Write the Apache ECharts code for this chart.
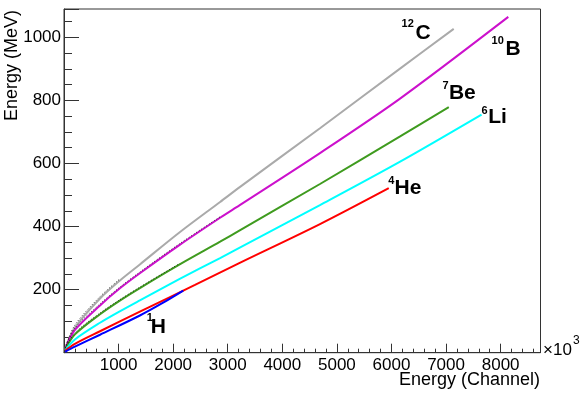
<!DOCTYPE html>
<html>
<head>
<meta charset="utf-8">
<script src="https://cdn.jsdelivr.net/npm/echarts@6/dist/echarts.min.js"></script>
<style>
html,body{margin:0;padding:0;background:#fff;}
#chart{width:581px;height:394px;}
</style>
</head>
<body>
<div id="chart"></div>
<script>
// ---- data (x: channel, y: MeV) ----
const carbon12 = [[20,12],[200,80],[660,172],[1030,230],[1390,280],[2120,382],[2860,478],[3220,525],[4690,712],[6150,900],[7140,1027]];
const boron10 = [[20,12],[200,72],[660,150],[1030,205],[1390,252],[2120,342],[2860,428],[3220,468],[4690,633],[6150,805],[8140,1065]];
const beryllium7 = [[20,10],[200,58],[660,122],[1030,166],[1390,205],[2120,280],[2860,352],[3220,388],[4690,535],[6150,685],[7050,779]];
const lithium6 = [[20,8],[200,42],[660,95],[1030,132],[1390,166],[2120,234],[2860,300],[3220,333],[4690,468],[6150,605],[7650,755]];
const helium4 = [[20,6],[200,28],[660,68],[1390,130],[2400,215],[3220,285],[4690,408],[5950,522]];
const proton1 = [[20,3],[200,19],[660,57],[1390,118],[1800,157],[2185,197]];

// black dotted fit curves visible along the low part of some tracks
const fitCarbon12 = [[20,16],[200,88],[660,178],[1030,235]];
const fitBoron10 = [[20,15],[200,78],[660,155],[1030,209],[1390,256],[2120,346],[2860,431]];
const fitBeryllium7 = [[20,13],[200,63],[660,126],[1030,169],[1390,208],[2120,283]];

const xTicks = [1000,2000,3000,4000,5000,6000,7000,8000];
const yTicks = [200,400,600,800,1000];

// label anchors (data coords) : [superscript, symbol, supX, supY, symX, symY]
const isotopeLabels = [
  ['12','C', 6185,1043, 6460,1013],
  ['10','B', 7833,990, 8108,963],
  ['7','Be', 6936,847, 7070,822],
  ['6','Li', 7650,768, 7789,747],
  ['4','He', 5940,546, 6075,522],
  ['1','H', 1515,110, 1606,82]
];

const chart = echarts.init(document.getElementById('chart'), null, {renderer:'canvas'});
const FONT = '"Liberation Sans", Arial, Helvetica, sans-serif';

function line(name, data, color){
  return {name, type:'line', data, smooth:0.3, symbol:'none',
    lineStyle:{color, width:2}, z:2, animation:false};
}
function fit(name, data){
  return {name, type:'line', data, smooth:0.3, symbol:'none',
    lineStyle:{color:'#000', width:1, type:[1,2], opacity:0.75}, z:3, animation:false};
}

const option = {
  animation:false,
  backgroundColor:'#fff',
  grid:{left:64, top:9, width:476.5, height:343.7, show:true, borderColor:'#333', borderWidth:1, containLabel:false},
  xAxis:{type:'value', min:0, max:8730, interval:1000,
    axisLine:{show:true, lineStyle:{color:'#333', width:1}},
    axisTick:{show:true, inside:true, length:9, lineStyle:{color:'#333'}},
    minorTick:{show:true, splitNumber:5, length:4, lineStyle:{color:'#333'}},
    splitLine:{show:false},
    axisLabel:{margin:4, color:'#000', fontFamily:FONT, fontSize:17,
      formatter:v => xTicks.includes(v) ? String(v) : ''}
  },
  yAxis:{type:'value', min:0, max:1090, interval:200,
    axisLine:{show:true, lineStyle:{color:'#333', width:1}},
    axisTick:{show:true, inside:true, length:15, lineStyle:{color:'#333'}},
    minorTick:{show:true, splitNumber:4, length:8, lineStyle:{color:'#333'}},
    splitLine:{show:false},
    axisLabel:{margin:3, color:'#000', fontFamily:FONT, fontSize:17,
      formatter:v => yTicks.includes(v) ? String(v) : ''}
  },
  series:[
    line('12C', carbon12, '#aaaaaa'),
    line('10B', boron10, '#cc11cc'),
    line('7Be', beryllium7, '#3f9b1f'),
    line('6Li', lithium6, '#00ffff'),
    line('4He', helium4, '#ff0000'),
    line('1H', proton1, '#0000ff'),
    fit('fit12C', fitCarbon12),
    fit('fit10B', fitBoron10),
    fit('fit7Be', fitBeryllium7)
  ]
};
chart.setOption(option);

const graphics = [
  {type:'text', x:540, y:380, style:{text:'Energy (Channel)', fontFamily:FONT, fontSize:18, fill:'#000', textAlign:'right', textVerticalAlign:'middle'}},
  {type:'text', x:12, y:10, rotation:Math.PI/2, style:{text:'Energy (MeV)', fontFamily:FONT, fontSize:18, fill:'#000', textAlign:'right', textVerticalAlign:'middle'}},
  {type:'text', x:543, y:350, style:{text:'\u00d710', fontFamily:FONT, fontSize:17, fill:'#000', textAlign:'left', textVerticalAlign:'middle'}},
  {type:'text', x:573, y:341, style:{text:'3', fontFamily:FONT, fontSize:12, fill:'#000', textAlign:'left', textVerticalAlign:'middle'}}
];
isotopeLabels.forEach(l => {
  const ps = chart.convertToPixel({gridIndex:0}, [l[2], l[3]]);
  const pm = chart.convertToPixel({gridIndex:0}, [l[4], l[5]]);
  graphics.push({type:'text', x:ps[0], y:ps[1], style:{text:l[0], fontFamily:FONT, fontWeight:'bold', fontSize:11, fill:'#000', textAlign:'left', textVerticalAlign:'middle'}});
  graphics.push({type:'text', x:pm[0]-1, y:pm[1], style:{text:l[1], fontFamily:FONT, fontWeight:'bold', fontSize:21, fill:'#000', textAlign:'left', textVerticalAlign:'middle'}});
});
chart.setOption({graphic:graphics});
</script>
</body>
</html>
